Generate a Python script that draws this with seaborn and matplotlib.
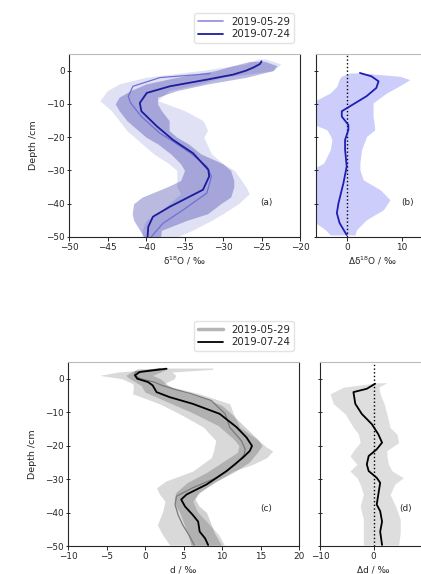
import matplotlib
matplotlib.use("Agg")
import matplotlib.pyplot as plt
import seaborn as sns
import pandas as pd
import numpy as np
from matplotlib.lines import Line2D

# ---------------- data ----------------
dates = ["2019-05-29", "2019-07-24"]

# panel (a): d18O profiles
a_late_depth = [2.8, 2.0, 1.0, 0.0, -1.2, -2.7, -4.7, -6.7, -9.7, -12.2, -16.7, -20.8, -24.8, -29.8, -31.8, -35.8, -40.9, -43.9, -46.9, -49.9]
a_late_val   = [-25.0, -25.2, -26.0, -27.0, -28.7, -32.1, -36.9, -39.9, -40.8, -40.6, -38.6, -36.5, -33.9, -31.9, -31.8, -32.6, -36.9, -39.1, -39.7, -39.8]
a_early_depth = [-0.9, -2.1, -4.7, -7.7, -9.7, -13.8, -18.8, -20.8, -24.8, -28.8, -31.8, -36.8, -41.9, -45.9, -49.9]
a_early_val   = [-31.7, -38.2, -41.7, -42.3, -42.0, -40.6, -38.2, -36.8, -34.2, -32.1, -31.5, -32.1, -35.2, -37.8, -39.3]

a_late_band_depth = [2.8, 1.5, 0.0, -2.0, -4.0, -6.0, -8.0, -10.0, -12.0, -15.0, -18.0, -20.0, -22.0, -25.0, -28.0, -30.0, -33.0, -35.0, -38.0, -40.0, -43.0, -45.0, -48.0, -50.0]
a_late_band_lo    = [-26.5, -28.7, -31.0, -36.0, -40.0, -42.0, -43.5, -44.0, -43.5, -42.5, -41.0, -40.0, -38.5, -36.8, -35.5, -35.0, -35.5, -37.3, -40.5, -41.6, -41.8, -41.6, -40.8, -40.3]
a_late_band_hi    = [-24.6, -23.0, -23.5, -27.0, -32.0, -36.0, -38.5, -38.5, -38.0, -37.0, -37.0, -36.0, -34.5, -32.9, -30.0, -29.0, -28.6, -28.6, -29.0, -30.3, -32.0, -34.7, -38.0, -38.1]

a_early_band_depth = [3.5, 2.0, 0.0, -2.0, -4.0, -6.0, -9.0, -12.0, -15.0, -18.0, -20.0, -25.0, -28.0, -30.0, -35.0, -37.0, -40.0, -43.0, -45.0, -48.0, -50.0]
a_early_band_lo    = [-25.5, -27.0, -33.0, -40.0, -43.5, -45.0, -46.0, -44.5, -43.5, -42.5, -41.5, -39.0, -37.0, -36.0, -36.0, -35.5, -37.0, -38.5, -40.0, -40.5, -40.5]
a_early_band_hi    = [-24.5, -22.5, -23.5, -30.0, -33.0, -37.0, -38.5, -35.0, -32.6, -32.0, -32.5, -31.5, -30.0, -28.5, -27.0, -26.6, -28.0, -30.0, -31.5, -34.0, -36.0]

# panel (b): difference in d18O
b_depth = [-0.7, -1.7, -3.2, -5.2, -7.7, -10.7, -12.2, -13.8, -16.3, -17.8, -20.8, -23.8, -28.8, -33.8, -39.8, -42.8, -45.8, -49.4]
b_val   = [2.4, 4.5, 5.8, 5.4, 3.6, 0.6, -0.9, -0.9, 0.3, 0.3, -0.3, -0.3, 0.0, -0.6, -1.5, -1.8, -1.3, 0.0]
b_band_depth = [-0.7, -1.7, -2.7, -4.7, -6.7, -9.7, -13.8, -15.8, -17.8, -19.8, -20.8, -23.8, -27.8, -29.8, -32.8, -35.8, -38.8, -41.8, -44.8, -47.8, -49.4]
b_band_lo    = [0.6, -1.0, -1.4, -1.8, -3.0, -6.5, -6.5, -6.5, -3.6, -2.9, -2.7, -3.0, -4.2, -6.5, -6.5, -6.5, -6.5, -6.5, -6.5, -3.9, -3.0]
b_band_hi    = [2.6, 9.7, 11.5, 9.5, 7.3, 4.8, 4.8, 5.0, 5.1, 3.6, 3.4, 2.7, 2.4, 2.4, 3.0, 6.1, 7.9, 6.7, 3.6, 1.8, 1.5]

# panel (c): d-excess profiles
c_late_depth = [3.0, 2.0, 1.0, 0.0, -1.0, -2.0, -4.0, -5.5, -7.5, -10.5, -14.5, -17.6, -20.1, -21.6, -23.6, -27.6, -31.6, -34.6, -36.1, -38.2, -40.7, -42.7, -45.7, -47.7, -49.7]
c_late_val   = [2.8, -0.7, -1.3, -1.0, 0.4, 1.0, 1.5, 3.2, 6.2, 9.7, 11.9, 13.2, 13.9, 13.6, 12.7, 10.6, 8.0, 5.4, 4.7, 5.2, 6.2, 6.9, 7.1, 7.8, 8.2]
c_early_depth = [3.0, 2.0, 1.0, 0.0, -1.0, -2.0, -3.0, -4.5, -6.5, -10.5, -14.5, -18.5, -21.0, -22.6, -25.6, -29.6, -32.6, -35.1, -37.6, -40.7, -43.7, -46.7, -49.7]
c_early_val   = [2.0, -1.2, -1.4, -0.6, 1.2, 2.2, 3.6, 6.0, 8.6, 10.4, 11.0, 12.5, 13.0, 12.9, 11.8, 9.3, 6.2, 4.1, 3.9, 4.3, 4.9, 5.7, 6.4]

c_early_band_depth = [3.2, 2.8, 2.0, 1.0, 0.0, -1.5, -2.5, -4.5, -7.5, -10.5, -14.5, -18.5, -20.5, -21.6, -23.6, -25.6, -27.6, -30.6, -32.6, -34.6, -36.6, -39.7, -43.7, -46.7, -49.7]
c_early_band_lo    = [2.5, 1.0, -3.5, -5.9, -3.0, -1.6, -1.5, -1.6, 1.9, 4.5, 7.6, 9.2, 9.0, 8.9, 8.6, 7.4, 6.2, 2.7, 1.5, 1.9, 2.6, 2.3, 1.6, 2.3, 3.2]
c_early_band_hi    = [8.8, 8.8, 3.5, 4.0, 3.8, 2.5, 3.5, 7.1, 11.0, 11.5, 12.3, 14.8, 15.8, 16.6, 15.8, 14.0, 11.5, 9.3, 8.0, 6.8, 6.2, 6.8, 8.4, 9.6, 10.3]

c_late_band_depth = [3.0, 1.0, 0.0, -2.0, -4.0, -6.0, -8.0, -10.0, -14.0, -18.0, -20.0, -22.0, -25.0, -28.0, -31.0, -34.0, -36.0, -38.0, -40.0, -43.0, -46.0, -50.0]
c_late_band_lo    = [-1.0, -2.5, -2.0, -0.5, 0.0, 2.0, 4.0, 6.0, 9.5, 11.5, 12.2, 12.0, 10.0, 8.0, 5.5, 4.0, 3.8, 4.0, 4.5, 5.0, 5.5, 6.0]
c_late_band_hi    = [3.0, 1.0, 2.0, 3.0, 5.0, 8.0, 10.0, 11.0, 12.8, 14.6, 15.2, 14.6, 13.5, 11.5, 9.0, 7.0, 6.5, 7.0, 8.0, 8.5, 9.0, 10.0]

# panel (d): difference in d-excess
d_depth = [-1.5, -3.0, -4.0, -7.5, -10.5, -13.6, -16.6, -19.1, -21.1, -23.1, -25.6, -27.6, -29.6, -31.1, -34.6, -37.6, -39.6, -42.7, -45.7, -49.7]
d_val   = [0.3, -1.25, -3.75, -3.4, -2.2, -0.3, 0.9, 1.6, 0.6, -0.9, -1.25, -0.9, 0.6, 1.25, 0.9, 0.6, 1.25, 1.6, 1.25, 1.6]
d_band_depth = [-1.2, -2.5, -4.5, -7.5, -10.5, -14.6, -16.6, -19.1, -21.5, -23.1, -25.6, -27.6, -29.6, -31.5, -34.6, -38.0, -42.0, -46.0, -49.7]
d_band_lo    = [0.8, -5.6, -8.1, -7.5, -5.3, -3.75, -2.8, -2.5, -3.75, -4.4, -3.1, -4.4, -3.1, -2.5, -1.9, -2.5, -1.9, -1.9, -1.9]
d_band_hi    = [2.5, 1.0, 1.25, 2.0, 2.5, 3.1, 4.4, 4.7, 2.5, 2.5, 2.8, 3.5, 5.6, 4.0, 3.1, 4.1, 5.0, 5.0, 4.7]

# ---------------- style ----------------
sns.set_style("ticks")
plt.rcParams["font.family"] = ["DejaVu Sans"]
FS = 6.4
LFS = 7.4

W, H = 421, 574
fig = plt.figure(figsize=(W / 100, H / 100), dpi=100)

def frac(left, right, top, bottom):
    return [left / W, 1 - bottom / H, (right - left) / W, (bottom - top) / H]

ax_a = fig.add_axes(frac(69, 300, 54, 237))
ax_b = fig.add_axes(frac(316, 429, 54, 237))
ax_c = fig.add_axes(frac(68, 299, 362, 546))
ax_d = fig.add_axes(frac(320, 427, 362, 546))

dark_blue = "#1c1c9c"
light_blue = "#6f6fd6"

def prof(ax, depth, val, color, lw, z):
    df = pd.DataFrame({"depth": depth, "val": val})
    sns.lineplot(data=df, x="val", y="depth", sort=False, orient="y", estimator=None,
                 color=color, lw=lw, ax=ax, zorder=z)

# (a)
ax_a.fill_betweenx(a_early_band_depth, a_early_band_lo, a_early_band_hi, color="#6a6ad0", alpha=0.2, lw=0, zorder=1)
ax_a.fill_betweenx(a_late_band_depth, a_late_band_lo, a_late_band_hi, color=dark_blue, alpha=0.3, lw=0, zorder=2)
prof(ax_a, a_early_depth, a_early_val, light_blue, 0.9, 3)
prof(ax_a, a_late_depth, a_late_val, dark_blue, 1.3, 4)
ax_a.set_xlim(-50, -20)
ax_a.set_xticks([-50, -45, -40, -35, -30, -25, -20])

# (b)
ax_b.fill_betweenx(b_band_depth, b_band_lo, b_band_hi, color="#3a3af0", alpha=0.25, lw=0, zorder=1)
ax_b.axvline(0, color="k", ls=":", lw=1.0, zorder=2)
prof(ax_b, b_depth, b_val, "#1e1eb4", 1.3, 3)
ax_b.set_xlim(-5.6, 15)
ax_b.set_xticks([0, 10])

# (c)
ax_c.fill_betweenx(c_early_band_depth, c_early_band_lo, c_early_band_hi, color="k", alpha=0.15, lw=0, zorder=1)
ax_c.fill_betweenx(c_late_band_depth, c_late_band_lo, c_late_band_hi, color="k", alpha=0.18, lw=0, zorder=2)
prof(ax_c, c_early_depth, c_early_val, "#7a7a7a", 0.9, 3)
prof(ax_c, c_late_depth, c_late_val, "k", 1.3, 4)
ax_c.set_xlim(-10, 20)
ax_c.set_xticks([-10, -5, 0, 5, 10, 15, 20])

# (d)
ax_d.fill_betweenx(d_band_depth, d_band_lo, d_band_hi, color="k", alpha=0.13, lw=0, zorder=1)
ax_d.axvline(0, color="k", ls=":", lw=1.0, zorder=2)
prof(ax_d, d_depth, d_val, "k", 1.3, 3)
ax_d.set_xlim(-10, 10)
ax_d.set_xticks([-10, 0, 10])

for ax in (ax_a, ax_b, ax_c, ax_d):
    ax.set_ylim(-50, 5)
    ax.set_yticks([0, -10, -20, -30, -40, -50])
    ax.tick_params(labelsize=FS, length=3, width=0.7, pad=1.5)
    ax.tick_params(axis="y", direction="inout")
    for s in ax.spines.values():
        s.set_linewidth(0.8)
    ax.spines["top"].set_color("#bbbbbb")
    ax.set_ylabel("")

for ax in (ax_a, ax_c):
    ax.set_ylabel("Depth /cm", fontsize=6.8, labelpad=6)
for ax in (ax_b, ax_d):
    ax.tick_params(axis="y", labelleft=False)

ax_a.set_xlabel("δ$^{18}$O / ‰", fontsize=FS, labelpad=2)
ax_b.set_xlabel("Δδ$^{18}$O / ‰", fontsize=FS, labelpad=2)
ax_c.set_xlabel("d / ‰", fontsize=FS, labelpad=3)
ax_d.set_xlabel("Δd / ‰", fontsize=FS, labelpad=3)

ax_a.text(0.856, 0.19, "(a)", transform=ax_a.transAxes, fontsize=FS, ha="center", va="center")
ax_b.text(0.81, 0.19, "(b)", transform=ax_b.transAxes, fontsize=FS, ha="center", va="center")
ax_c.text(0.86, 0.205, "(c)", transform=ax_c.transAxes, fontsize=FS, ha="center", va="center")
ax_d.text(0.80, 0.205, "(d)", transform=ax_d.transAxes, fontsize=FS, ha="center", va="center")

# legends
h_top = [Line2D([], [], color="#8c8cdc", lw=1.2), Line2D([], [], color=dark_blue, lw=1.3)]
fig.legend(h_top, dates, loc="upper center", bbox_to_anchor=(244 / W, 1 - 8 / H),
           fontsize=LFS, frameon=True, handlelength=2.4, borderpad=0.35, labelspacing=0.25,
           edgecolor="#dddddd", fancybox=True)
h_bot = [Line2D([], [], color="#b5b5b5", lw=2.5), Line2D([], [], color="k", lw=1.3)]
fig.legend(h_bot, dates, loc="upper center", bbox_to_anchor=(244 / W, 1 - 316 / H),
           fontsize=LFS, frameon=True, handlelength=2.4, borderpad=0.35, labelspacing=0.25,
           edgecolor="#dddddd", fancybox=True)

fig.savefig("out.png", dpi=100)
